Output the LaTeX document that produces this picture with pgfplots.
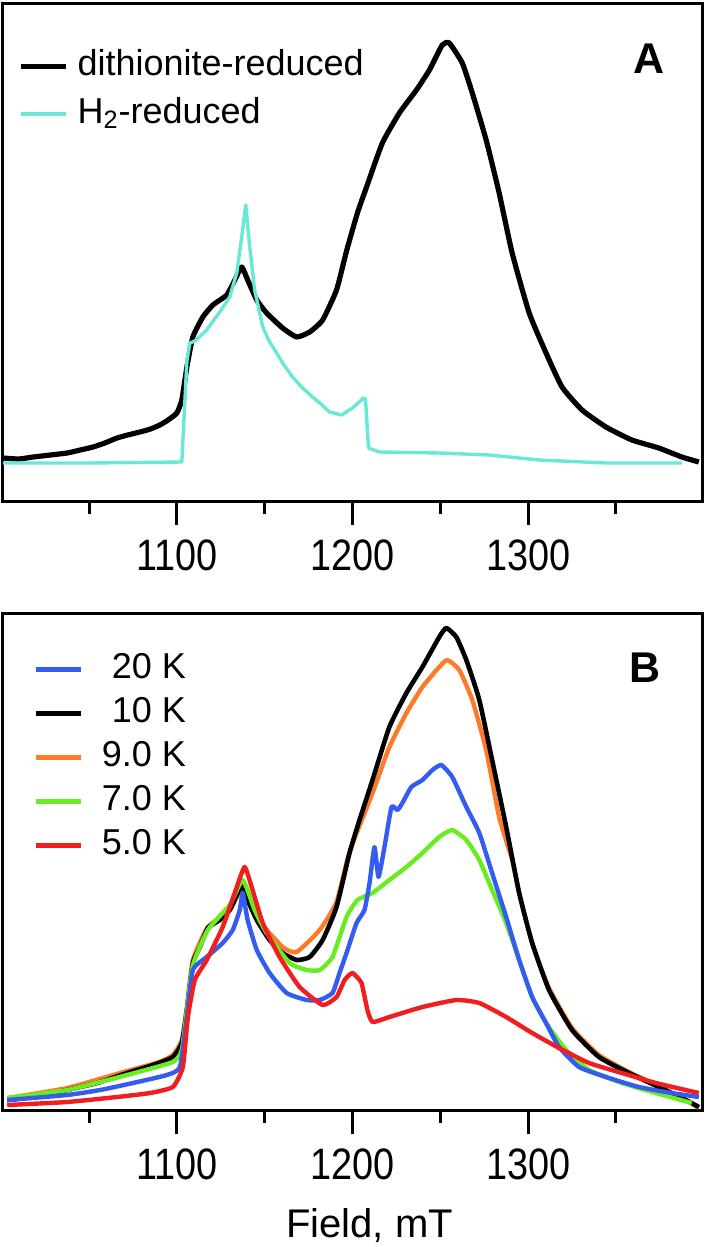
\documentclass[border=0pt]{standalone}
\usepackage{pgfplots}
\pgfplotsset{compat=1.18}
\usepackage{fontspec}
\setmainfont{Liberation Sans}
\newfontfamily\tickfont{Liberation Sans}[FakeStretch=0.86]
\definecolor{hcyan}{RGB}{104,232,214}
\definecolor{cblue}{RGB}{52,92,240}
\definecolor{corange}{RGB}{255,122,40}
\definecolor{cgreen}{RGB}{104,236,34}
\definecolor{cred}{RGB}{240,30,30}
\begin{document}
\begin{tikzpicture}
\useasboundingbox (0pt,0pt) rectangle (354pt,-623.5pt);
\pgfplotsset{
  panel/.style={
    width=349.5pt, height=248.5pt, scale only axis,
    xmin=1001, xmax=1399, ymin=0, ymax=497,
    axis line style={line width=1.5pt},
    xtick={1100,1200,1300}, xticklabels={1100,1200,1300},
    minor xtick={1050,1150,1250,1350},
    ytick=\empty,
    xtick pos=bottom, xtick align=outside,
    major tick length=12pt, minor tick length=6.5pt,
    tick style={black, line width=1.5pt},
    xticklabel style={font=\tickfont\fontsize{22}{24}\selectfont, anchor=base, yshift=-22.5pt},
    legend style={draw=none, fill=none, inner xsep=0pt, inner ysep=0pt,
      font=\fontsize{18}{20}\selectfont,
      nodes={inner sep=0pt, text height=13pt, text depth=4pt}},
    legend image code/.code={\draw[##1] (0pt,0pt) -- (22.5pt,0pt);},
    every axis plot/.append style={line join=round},
  }
}
% ---------------- Panel A ----------------
\begin{axis}[panel, at={(1.5pt,-2pt)}, anchor=north west,
  legend cell align=left,
  legend style={at={(axis description cs:0.0215,0.9100)}, anchor=north west,
    column sep=4.5pt, row sep=7pt}]
\addplot[black, line width=2.6pt, smooth, tension=0.3] coordinates {
(1001.1,43) (1010,42) (1018.2,44) (1028,46) (1037.5,48) (1045,51) (1052.3,54)
(1059,58) (1065.9,63) (1072,66) (1079.0,69) (1085,72) (1090.3,76) (1095,81)
(1100,88) (1102.8,101) (1105.7,134) (1109.1,164) (1114.8,184)
(1120.5,196) (1128.4,206) (1133.0,221) (1136.9,234) (1140.3,221) (1145.5,201)
(1151.1,188) (1160.2,173) (1168.2,164) (1175.6,169) (1183.0,181) (1190.9,211)
(1196.6,250) (1202.8,288) (1208.0,314) (1217.0,358) (1226.7,388) (1236.4,411)
(1243.8,431) (1251.1,456) (1255.1,458) (1262.5,438) (1268.2,408) (1276.1,361)
(1283.5,308) (1290.9,248) (1300.6,188) (1310.2,148) (1319.3,114) (1330.7,91)
(1344.3,74) (1359.1,61) (1374.4,53) (1387.5,44) (1397.2,39) };
\addlegendentry{dithionite-reduced}
\addplot[hcyan, line width=1.7pt] coordinates {
(1001.1,38) (1050,38) (1102.8,39) (1104,80) (1105.7,140) (1107.4,158)
(1110.2,160) (1117.0,171) (1124.4,189) (1130.1,204) (1134.1,228) (1136.9,264)
(1139.2,296) (1141.5,254) (1144.3,211) (1148.9,174) (1152.5,160) (1156.8,148)
(1161,136) (1165.9,124) (1171,114) (1177.3,104) (1182,97) (1186.9,89) (1193.8,86)
(1200,93) (1206.3,103) (1207.4,102)
(1209.1,53) (1215.3,49) (1249.4,48) (1277.8,46) (1306.3,41) (1344.3,38)
(1387.5,38) };
\addlegendentry{H\textsubscript{2}-reduced}
\node[font=\bfseries\fontsize{21.5}{24}\selectfont, anchor=base]
  at (axis description cs:0.924,0.8592) {A};
\end{axis}
% ---------------- Panel B ----------------
\begin{axis}[panel, at={(1.5pt,-306.5pt)}, anchor=north west,
  xlabel={Field, mT},
  xlabel style={font=\fontsize{20}{24}\selectfont, at={(axis description cs:0.5,0)},
    anchor=base, yshift=-63.5pt, xshift=8.5pt},
  legend cell align=right,
  legend style={at={(axis description cs:0.0429,0.9215)}, anchor=north west,
    column sep=9.5pt, row sep=5pt}]
% orange 9.0 K
\addplot[corange, line width=2.2pt, smooth, tension=0.3, forget plot] coordinates {
(1003.4,12) (1037.5,22) (1071.6,39) (1090,48) (1097.7,55) (1102.8,70) (1105.7,103)
(1109.1,150) (1117.6,183) (1130.1,200) (1137.5,222) (1145.5,192) (1160.2,163)
(1168.2,158) (1181.3,180) (1190.9,208) (1198.3,258) (1211.4,317) (1221.0,363)
(1230.7,397) (1239.8,423) (1249.4,443) (1254.0,450) (1260.8,440) (1268.2,410)
(1276.1,360) (1283.5,293) (1290.9,250) (1294.9,217) (1302.3,167) (1311.9,122)
(1325.0,82) (1340.3,55) (1357.4,38) (1374.4,24) (1389.8,10) (1397.2,2) };
% black 10 K
\addplot[black, line width=2.3pt, smooth, tension=0.3, forget plot] coordinates {
(1003.4,10) (1018.2,13) (1037.5,20) (1054.5,27) (1071.6,37) (1086.4,45)
(1097.7,53) (1102.8,67) (1105.7,100) (1109.1,147) (1113.1,163) (1117.6,182)
(1124.4,190) (1130.1,200) (1134.7,217) (1137.5,225) (1140.3,210) (1145.5,190)
(1152.8,170) (1160.2,157) (1168.2,150) (1175.6,153) (1183.0,170) (1190.9,203)
(1198.3,257) (1204.0,290) (1211.4,330) (1221.0,383) (1230.7,417) (1239.8,443)
(1249.4,473) (1253.4,482) (1259.1,473) (1264.8,450) (1272.2,410) (1279.5,350)
(1287.5,283) (1294.9,217) (1302.3,167) (1311.9,120) (1325.0,80) (1340.3,53)
(1357.4,37) (1374.4,23) (1389.8,10) (1397.2,3) };
% green 7.0 K
\addplot[cgreen, line width=2.2pt, smooth, tension=0.3, forget plot] coordinates {
(1003.4,12) (1037.5,20) (1071.6,35) (1097.7,48) (1102.8,60) (1105.7,100)
(1109.1,145) (1117.6,180) (1130.1,205) (1137.5,230) (1144.3,200) (1151.1,177)
(1164.2,147) (1173.9,140) (1181.3,140) (1188.6,153) (1196.6,193) (1202.8,210)
(1211.4,217) (1221.0,230) (1230.7,243) (1239.8,257) (1249.4,273) (1256.8,280)
(1264.8,270) (1272.2,250) (1279.5,220) (1287.5,187) (1294.9,150) (1302.3,113)
(1310.2,87) (1321.6,60) (1334.7,40) (1353.4,27) (1372.7,17) (1393.2,7) };
% blue 20 K
\addplot[cblue, line width=2.2pt, smooth, tension=0.3, forget plot] coordinates {
(1003.4,10) (1037.5,15) (1056.3,20) (1075.0,27) (1094.3,35) (1101.7,43)
(1105.7,93) (1109.1,140) (1117.0,153) (1126.1,167) (1131.8,180) (1135.8,200)
(1137.5,217) (1140.3,190) (1145.5,160) (1152.8,137) (1162.5,117) (1173.9,110)
(1181.3,110) (1188.6,117) (1192.6,137) (1196.6,157) (1202.3,187) (1206.8,200)
(1209.7,227) (1212.5,263) (1214.8,233) (1218.2,263) (1222.2,303) (1225.6,300)
(1228.4,307) (1233.5,323) (1239.8,330) (1245.5,340) (1250.6,345) (1256.8,333)
(1264.8,303) (1272.2,277) (1279.5,237) (1287.5,193) (1294.9,150) (1302.3,113)
(1310.2,87) (1317.6,63) (1329.0,43) (1344.3,33) (1363.1,23) (1381.8,17)
(1397.2,13) };
% red 5.0 K
\addplot[cred, line width=2.2pt, smooth, tension=0.3, forget plot] coordinates {
(1003.4,5) (1037.5,8) (1065.9,13) (1084.7,17) (1097.7,23) (1103.4,43)
(1106.3,93) (1110.2,130) (1117.0,150) (1126.1,183) (1134.1,223) (1138.6,243)
(1142.6,223) (1148.9,187) (1158.5,153) (1169.9,123) (1183.0,105) (1190.9,113)
(1195.5,130) (1200,137) (1205.1,127) (1208.5,100) (1211.4,88) (1221.0,93)
(1239.8,103) (1259.1,110) (1272.2,107) (1287.5,93) (1302.3,77) (1317.6,62)
(1334.7,47) (1353.4,37) (1372.7,27) (1397.2,17) };
\addlegendimage{cblue, line width=2.2pt}
\addlegendentry{20 K}
\addlegendimage{black, line width=2.2pt}
\addlegendentry{10 K}
\addlegendimage{corange, line width=2.2pt}
\addlegendentry{9.0 K}
\addlegendimage{cgreen, line width=2.2pt}
\addlegendentry{7.0 K}
\addlegendimage{cred, line width=2.2pt}
\addlegendentry{5.0 K}
\node[font=\bfseries\fontsize{21.5}{24}\selectfont, anchor=base]
  at (axis description cs:0.918,0.8592) {B};
\end{axis}
\end{tikzpicture}
\end{document}
